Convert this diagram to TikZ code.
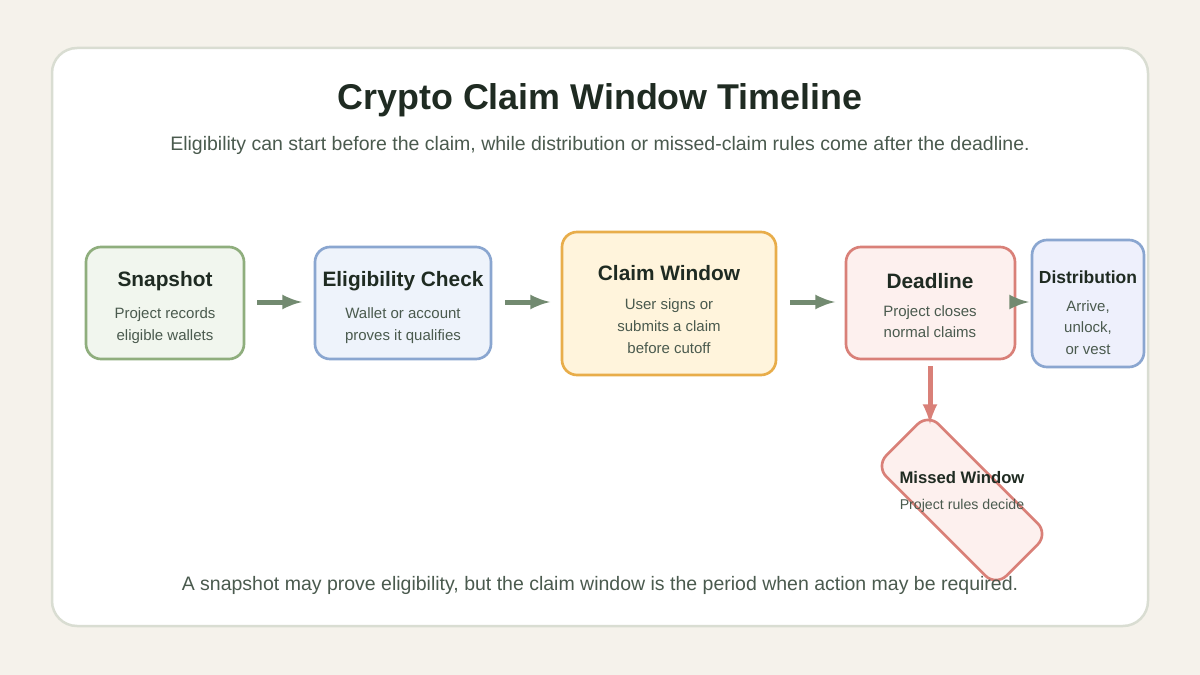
\documentclass[tikz,border=0pt]{standalone}
\usepackage{fontspec}
\setmainfont{Liberation Sans}
\usetikzlibrary{positioning}
\definecolor{pagebg}{HTML}{F5F2EB}
\definecolor{cardline}{HTML}{D9DDD2}
\definecolor{ink}{HTML}{1F2B22}
\definecolor{subink}{HTML}{4A5A4E}
\definecolor{flow}{HTML}{728A70}
\definecolor{grnline}{HTML}{8FAE7D}\definecolor{grnfill}{HTML}{F1F6EE}
\definecolor{bluline}{HTML}{8AA6D0}\definecolor{blufill}{HTML}{EEF3FB}
\definecolor{orgline}{HTML}{E8AD4A}\definecolor{orgfill}{HTML}{FFF4DC}
\definecolor{redline}{HTML}{D98078}\definecolor{redfill}{HTML}{FDF0EE}
\definecolor{vioflil}{HTML}{EEF0FC}
\tikzset{
  stagebox/.style={draw, line width=1.6pt, rounded corners=9pt},
  head/.style={font=\bfseries\fontsize{12.5}{14}\selectfont, text=ink},
  body/.style={font=\fontsize{9}{13}\selectfont, text=subink, align=center},
  flowarr/.style={-latex, line width=3pt, draw=flow}
}
\begin{document}
\begin{tikzpicture}[x=0.6pt,y=-0.6pt]
        \fill[pagebg] (0,0) rectangle (1200,675);
        \useasboundingbox (0,0) rectangle (1200,675);
        \filldraw[fill=white, draw=cardline, line width=1.5pt, rounded corners=15pt] (52,48) rectangle (1148,626);

        \node[font=\bfseries\fontsize{21.5}{26}\selectfont, text=ink] (title) at (600,100) {Crypto Claim Window Timeline};
        \node[font=\fontsize{11.7}{14}\selectfont, text=subink] (sub) at (600,145) {Eligibility can start before the claim, while distribution or missed-claim rules come after the deadline.};

        % stages
        \draw[stagebox, draw=grnline, fill=grnfill] (86,247) rectangle (244,359);
        \draw[stagebox, draw=bluline, fill=blufill] (315,247) rectangle (491,359);
        \draw[stagebox, draw=orgline, fill=orgfill] (562,232) rectangle (776,375);
        \draw[stagebox, draw=redline, fill=redfill] (846,247) rectangle (1015,359);
        \draw[stagebox, draw=bluline, fill=vioflil] (1032,240) rectangle (1144,367);
        \draw[stagebox, draw=redline, fill=redfill, rotate around={-45:(962,500)}] (877,463) rectangle (1047,537);

        \node[head] (snap) at (165,281) {Snapshot};
        \node[body, below=3pt of snap] {Project records\\eligible wallets};
        \node[head] (elig) at (403,281) {Eligibility Check};
        \node[body, below=3pt of elig] {Wallet or account\\proves it qualifies};
        \node[head] (claim) at (669,273) {Claim Window};
        \node[body, below=4pt of claim] {User signs or\\submits a claim\\before cutoff};
        \node[head] (dead) at (930,281) {Deadline};
        \node[body, below=3pt of dead] {Project closes\\normal claims};
        \node[head, font=\bfseries\fontsize{10.5}{12}\selectfont] (dist) at (1088,277) {Distribution};
        \node[body, below=3pt of dist] {Arrive,\\unlock,\\or vest};
        \node[head, font=\bfseries\fontsize{10}{12}\selectfont] (miss) at (962,478) {Missed Window};
        \node[body, font=\fontsize{8.5}{11}\selectfont, below=2pt of miss] {Project rules decide};

        % connectors
        \coordinate (a1) at (257,302); \coordinate (a2) at (302,302);
        \coordinate (b1) at (505,302); \coordinate (b2) at (550,302);
        \coordinate (c1) at (790,302); \coordinate (c2) at (835,302);
        \coordinate (d1) at (1015,302); \coordinate (d2) at (1029,302);
        \coordinate (e1) at (930,366); \coordinate (e2) at (930,424);
        \draw[flowarr] (a1) -- (a2);
        \draw[flowarr] (b1) -- (b2);
        \draw[flowarr] (c1) -- (c2);
        \draw[flowarr] (d1) -- (d2);
        \draw[flowarr, draw=redline] (e1) -- (e2);

        \node[font=\fontsize{11.7}{14}\selectfont, text=subink] (foot) at (600,585) {A snapshot may prove eligibility, but the claim window is the period when action may be required.};
\end{tikzpicture}
\end{document}
